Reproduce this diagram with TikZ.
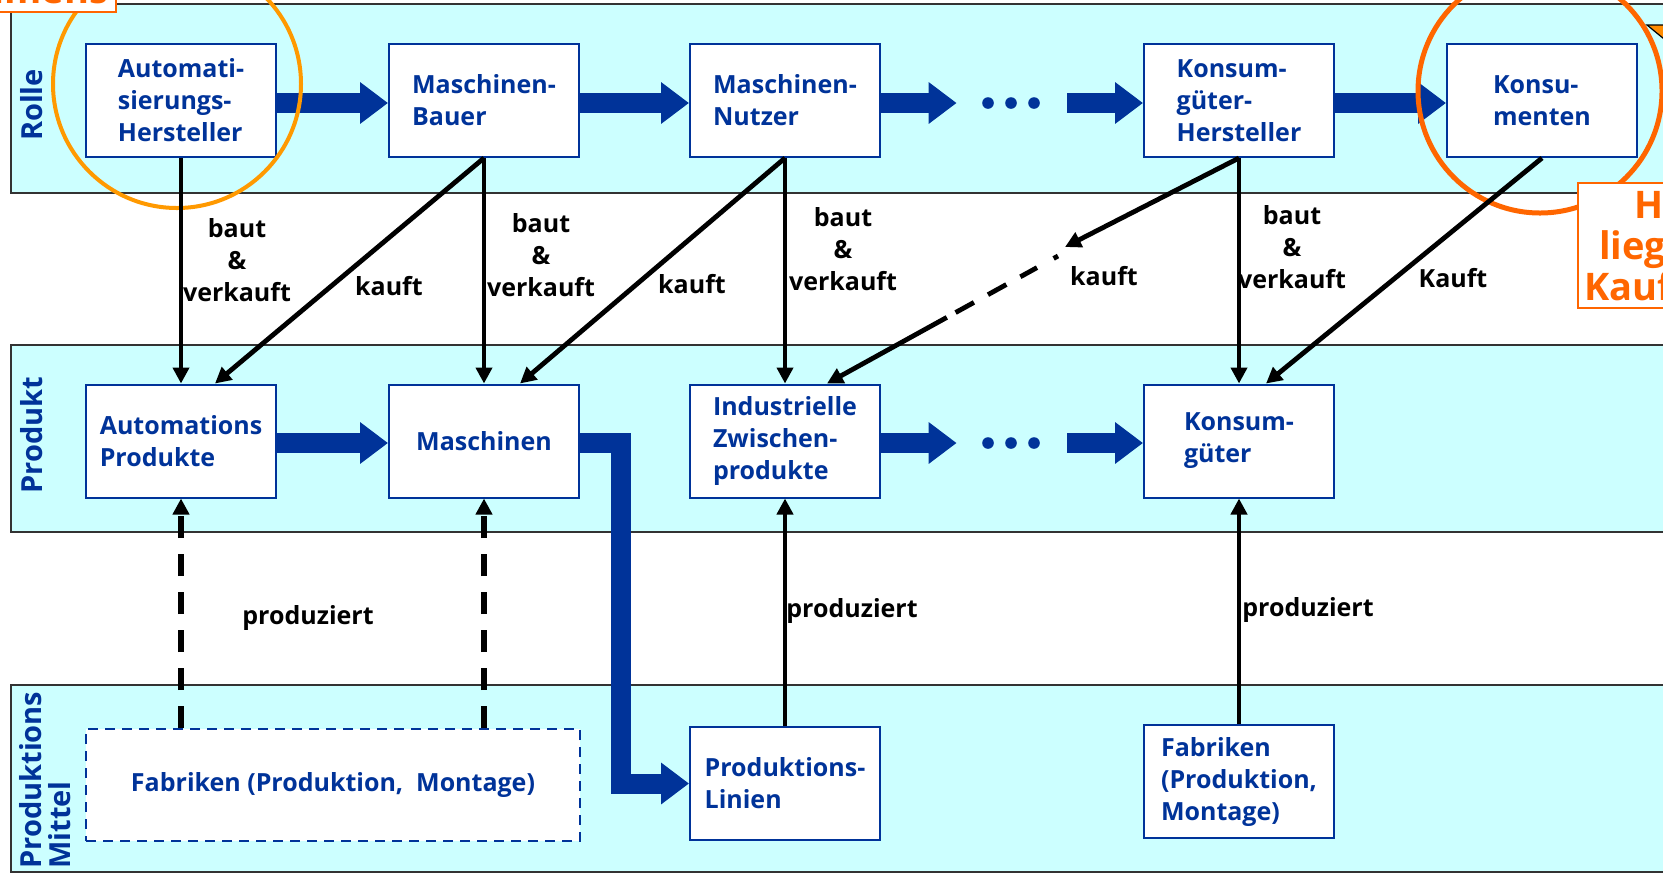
\documentclass[tikz,border=0pt]{standalone}
\usepackage{fontspec}
\setmainfont{Open Sans}
\usetikzlibrary{arrows.meta}

\definecolor{sblue}{RGB}{0,51,153}
\definecolor{bandcyan}{RGB}{204,255,255}
\definecolor{ringorange}{RGB}{255,153,0}
\definecolor{noteorange}{RGB}{255,102,0}
\definecolor{tiporange}{RGB}{255,140,0}

\tikzset{
  band/.style={fill=bandcyan, draw=black!80, line width=0.8pt},
  bandlabel/.style={rotate=90, text=sblue, inner sep=1pt, align=left,
    font=\bfseries\fontsize{14.5}{14.5}\selectfont},
  rolebox/.style={draw=sblue, line width=1pt, fill=white, text=sblue, align=left,
    minimum width=95pt, minimum height=56.5pt, inner sep=2pt,
    font=\bfseries\fontsize{12.5}{16}\selectfont},
  bluearrow/.style={draw=sblue, line width=10pt, line join=miter,
    -{Triangle[width=20pt,length=14pt]}},
  relarrow/.style={line width=2.4pt, -{Triangle[width=8pt,length=8pt]}},
  lbl/.style={align=center, font=\bfseries\fontsize{12.5}{16}\selectfont},
  orangering/.style={line width=2pt},
  notebox/.style={draw=noteorange, line width=1pt, fill=white, text=noteorange,
    align=center, inner sep=3pt, font=\bfseries\fontsize{19}{20.5}\selectfont}
}

\begin{document}
\begin{tikzpicture}[x=0.5pt, y=-0.5pt]
    \useasboundingbox (0,0) rectangle (1663,874);

    % Bands
    \draw[band] (11,4) rectangle (1700,193);
    \draw[band] (11,345) rectangle (1700,532);
    \draw[band] (11,685) rectangle (1700,872);
    \node[bandlabel] (rolle) at (32,105) {Rolle};
    \node[bandlabel] (produkt) at (32,435) {Produkt};
    \node[bandlabel, anchor=north west] (mittel) at (17,871) {Produktions\\Mittel};

    % Roles
    \node[rolebox] (autom) at (181,100.5) {Automati-\\sierungs-\\Hersteller};
    \node[rolebox] (mbauer) at (484,100.5) {Maschinen-\\Bauer};
    \node[rolebox] (mnutzer) at (785,100.5) {Maschinen-\\Nutzer};
    \node[rolebox] (kghersteller) at (1239,100.5) {Konsum-\\güter-\\Hersteller};
    \node[rolebox] (konsumenten) at (1542,100.5) {Konsu-\\menten};

    % Products
    \node[rolebox] (autoprod) at (181,441) {Automations\\Produkte};
    \node[rolebox] (maschinen) at (484,441) {Maschinen};
    \node[rolebox] (indust) at (785,441) {Industrielle\\Zwischen-\\produkte};
    \node[rolebox] (konsumgueter) at (1239,441) {Konsum-\\güter};

    % Means of production
    \node[rolebox, dashed, dash pattern=on 5pt off 3.5pt, minimum width=247pt,
      minimum height=56pt] (fabrikA) at (333,785) {Fabriken (Produktion,~ Montage)};
    \node[rolebox] (linien) at (785,783.5) {Produktions-\\Linien};
    \node[rolebox] (fabrikK) at (1239,781.5) {Fabriken\\(Produktion,\\Montage)};

    % Dots
    \node[minimum width=55pt, minimum height=10pt, inner sep=0pt] (dotsR) at (1012,103) {};
    \node[minimum width=55pt, minimum height=10pt, inner sep=0pt] (dotsP) at (1012,443) {};
    \foreach \d in {dotsR,dotsP}
      \foreach \dx in {-12,-0.5,11}
        \fill[sblue] ([xshift=\dx pt]\d.center) circle[radius=5.8];

    % Value chain
    \draw[bluearrow] (autom.east |- 0,103) -- (mbauer.west |- 0,103);
    \draw[bluearrow] (mbauer.east |- 0,103) -- (mnutzer.west |- 0,103);
    \draw[bluearrow] (mnutzer.east |- dotsR) -- (dotsR.west);
    \draw[bluearrow] (dotsR.east) -- (kghersteller.west |- dotsR);
    \draw[bluearrow] (kghersteller.east |- 0,103) -- (konsumenten.west |- 0,103);
    \draw[bluearrow] (autoprod.east |- dotsP) -- (maschinen.west |- dotsP);
    \draw[bluearrow] (indust.east |- dotsP) -- (dotsP.west);
    \draw[bluearrow] (dotsP.east) -- (konsumgueter.west |- dotsP);
    \draw[bluearrow] (maschinen.east |- dotsP) -- ++(41,0) |- (linien.west);

    % Rings
    \draw[orangering, draw=ringorange] (177,84) circle[radius=124];
    \draw[orangering, draw=noteorange, line width=2.5pt] (1540,91) circle[radius=122];

    % baut & verkauft
    \draw[relarrow] (autom.south) -- (autoprod.north);
    \draw[relarrow] (mbauer.south) -- (maschinen.north);
    \draw[relarrow] (mnutzer.south) -- (indust.north);
    \draw[relarrow] (kghersteller.south) -- (konsumgueter.north);
    \node[lbl] (bv1) at (237,260) {baut\\\&\\verkauft};
    \node[lbl] (bv2) at (541,255) {baut\\\&\\verkauft};
    \node[lbl] (bv3) at (843,249) {baut\\\&\\verkauft};
    \node[lbl] (bv4) at (1292,247) {baut\\\&\\verkauft};

    % kauft
    \coordinate (kauftend) at (1065,247);
    \coordinate (kauftgap) at (1058,256);
    \draw[relarrow] (mbauer.south) -- ([xshift=17pt]autoprod.north);
    \draw[relarrow] (mnutzer.south) -- ([xshift=18pt]maschinen.north);
    \draw[relarrow] (kghersteller.south) -- (kauftend);
    \draw[relarrow, dash pattern=on 2.5pt off 9.5pt on 9.5pt off 8pt on 10.5pt off 8pt on 10.5pt off 5pt on 200pt]
      (kauftgap) -- ([xshift=21pt]indust.north);
    \draw[relarrow] (konsumenten.south) -- ([xshift=13.5pt]konsumgueter.north);
    \node[lbl] (k1) at (389,286) {kauft};
    \node[lbl] (k2) at (692,284) {kauft};
    \node[lbl] (k3) at (1104,276) {kauft};
    \node[lbl] (k4) at (1453,278) {Kauft};

    % produziert
    \draw[relarrow, line width=2.6pt, dash pattern=on 11pt off 8pt] (autoprod.south |- fabrikA.north) -- (autoprod.south);
    \draw[relarrow, line width=2.6pt, dash pattern=on 11pt off 8pt] (maschinen.south |- fabrikA.north) -- (maschinen.south);
    \draw[relarrow] (linien.north) -- (indust.south);
    \draw[relarrow] (fabrikK.north) -- (konsumgueter.south);
    \node[lbl] (p1) at (308,618) {produziert};
    \node[lbl] (p2) at (852,611) {produziert};
    \node[lbl] (p3) at (1308,610) {produziert};

    % Notes
    \node[notebox, anchor=south east, inner sep=4pt] (noteL) at (117,13) {Unternehmens};
    \node[notebox, anchor=north west, minimum height=62.5pt] (noteR) at (1577,182) {Hier\\liegt die\\Kaufkraft};
    \filldraw[fill=tiporange, draw=black, line width=0.6pt] (1647,25) -- (1720,25) -- (1720,85) -- cycle;

\end{tikzpicture}
\end{document}
